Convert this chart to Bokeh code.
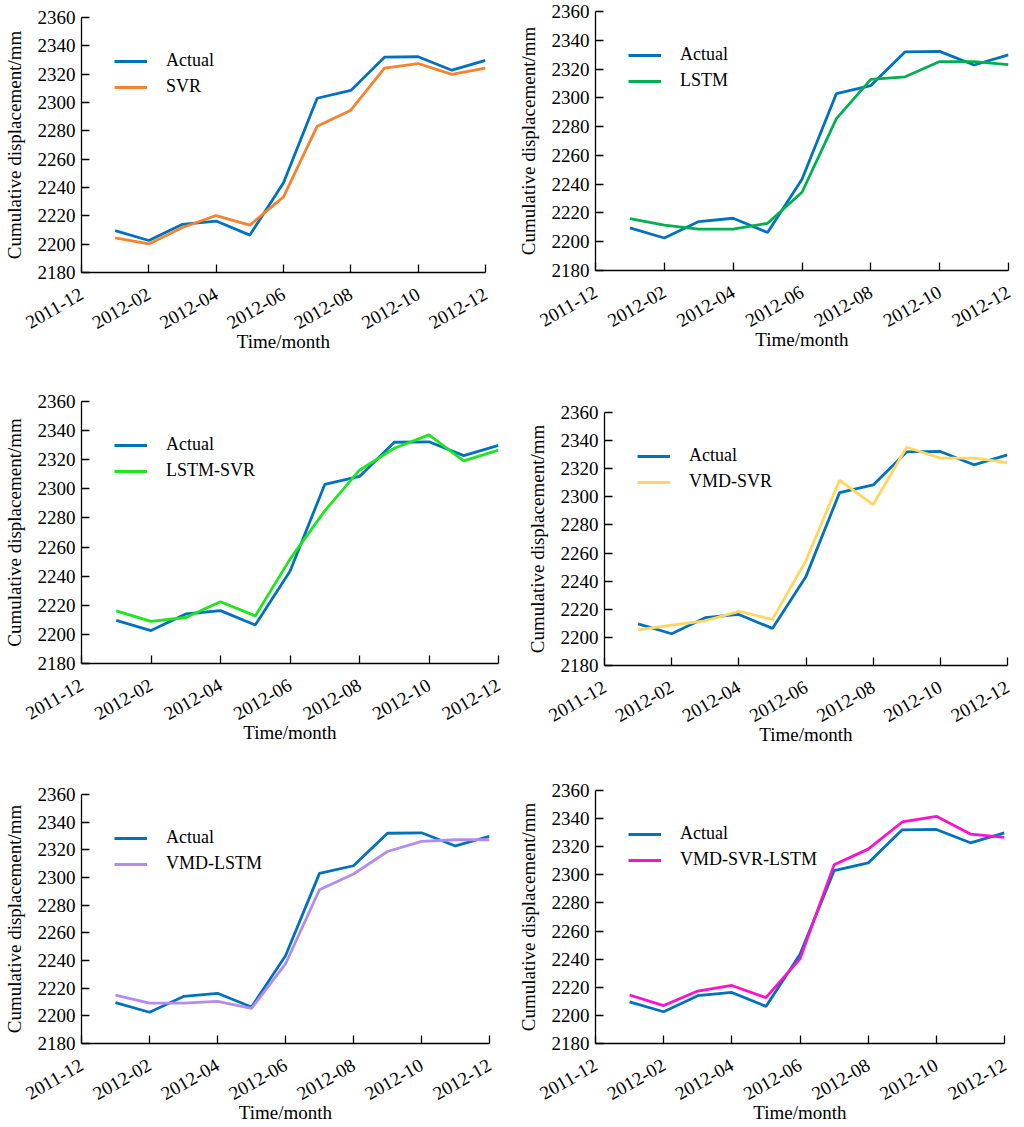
from bokeh.plotting import figure
from bokeh.layouts import column, row
from bokeh.models import FixedTicker, Range1d, Spacer
from bokeh.embed import file_html
from bokeh.resources import INLINE

# ---- data ----
tick_labels = ["2011-12", "2012-02", "2012-04", "2012-06", "2012-08", "2012-10", "2012-12"]
months = ["2012-01", "2012-02", "2012-03", "2012-04", "2012-05", "2012-06",
          "2012-07", "2012-08", "2012-09", "2012-10", "2012-11", "2012-12"]
actual = [2209.6, 2202.6, 2214.0, 2216.3, 2206.4, 2243.4, 2303.0, 2308.5, 2332.0, 2332.3, 2322.8, 2329.8]
svr = [2204.5, 2200.2, 2211.8, 2220.2, 2213.4, 2233.4, 2283.3, 2294.6, 2324.2, 2327.5, 2319.8, 2324.2]
lstm = [2216.0, 2211.6, 2208.7, 2208.7, 2212.8, 2234.4, 2285.5, 2312.8, 2314.6, 2325.2, 2325.2, 2323.1]
lstm_svr = [2216.2, 2208.9, 2211.6, 2222.4, 2212.7, 2251.7, 2284.9, 2312.8, 2327.9, 2337.1, 2319.2, 2326.6]
vmd_svr = [2205.4, 2208.8, 2211.8, 2218.5, 2212.8, 2254.6, 2311.8, 2294.5, 2335.3, 2327.5, 2327.5, 2324.4]
vmd_lstm = [2214.9, 2209.2, 2209.2, 2210.4, 2205.4, 2237.5, 2291.2, 2302.5, 2318.8, 2326.1, 2327.3, 2327.3]
vmd_svr_lstm = [2214.5, 2207.0, 2217.3, 2221.3, 2212.6, 2240.2, 2307.1, 2318.3, 2337.6, 2341.6, 2329.0, 2326.7]

FONT = "Liberation Serif"
ACTUAL_COLOR = "#0072BD"

# month index: 0 = 2011-12, 1 = 2012-01, ...
x_idx = list(range(1, len(months) + 1))
tick_pos = [2 * i for i in range(len(tick_labels))]

specs = [
    # name, values, color, spacer_above, width, height, left, right, top, bottom
    ("SVR", svr, "#F8812B", 6, 508, 364, 79, 23, 11, 98),
    ("LSTM", lstm, "#00B050", 0, 508, 370, 87, 8, 11, 100),
    ("LSTM-SVR", lstm_svr, "#1EE61E", 0, 508, 390, 81, 10, 31, 97),
    ("VMD-SVR", vmd_svr, "#FFD760", 11, 508, 379, 96, 9, 31, 95),
    ("VMD-LSTM", vmd_lstm, "#B48CF0", 4, 508, 362, 81, 19, 30, 81),
    ("VMD-SVR-LSTM", vmd_svr_lstm, "#FF10CC", 0, 508, 366, 87, 12, 30, 82),
]


def make_panel(name, values, color, sp, w, h, bl, br, bt, bb):
    p = figure(width=w, height=h, output_backend="svg", toolbar_location=None,
               x_range=Range1d(0, 12), y_range=Range1d(2180, 2360),
               min_border_left=bl, min_border_right=br,
               min_border_top=bt, min_border_bottom=bb)
    p.outline_line_color = None
    p.xgrid.visible = False
    p.ygrid.visible = False
    p.background_fill_color = "white"
    p.border_fill_color = "white"

    p.line(x_idx, actual, line_color=ACTUAL_COLOR, line_width=2.8, legend_label="Actual")
    p.line(x_idx, values, line_color=color, line_width=2.8, legend_label=name)

    for ax in (p.xaxis[0], p.yaxis[0]):
        ax.axis_line_color = "black"
        ax.axis_line_width = 1.3
        ax.major_tick_line_color = "black"
        ax.major_tick_line_width = 1.3
        ax.major_tick_in = 8
        ax.major_tick_out = 0
        ax.minor_tick_line_color = None
        ax.major_label_text_font = FONT
        ax.major_label_text_font_size = "19px"
        ax.major_label_text_color = "black"
        ax.axis_label_text_font = FONT
        ax.axis_label_text_font_size = "19px"
        ax.axis_label_text_font_style = "normal"
        ax.axis_label_text_color = "black"

    p.xaxis.ticker = FixedTicker(ticks=tick_pos)
    p.xaxis.major_label_overrides = {t: lab for t, lab in zip(tick_pos, tick_labels)}
    p.xaxis.major_label_orientation = 0.52
    p.xaxis.major_label_standoff = 20
    p.xaxis.axis_label = "Time/month"
    p.xaxis.axis_label_standoff = -7

    p.yaxis.ticker = FixedTicker(ticks=list(range(2180, 2361, 20)))
    p.yaxis.major_label_standoff = 6
    p.yaxis.axis_label = "Cumulative displacement/mm"
    p.yaxis.axis_label_standoff = 10

    lg = p.legend[0]
    lg.location = "top_left"
    lg.margin = 33
    lg.padding = 0
    lg.spacing = 5
    lg.border_line_color = None
    lg.background_fill_alpha = 0
    lg.glyph_width = 33
    lg.glyph_height = 20
    lg.label_height = 20
    lg.label_standoff = 19
    lg.label_text_font = FONT
    lg.label_text_font_size = "18px"
    lg.label_text_color = "black"

    if sp > 0:
        return column(Spacer(width=w, height=sp), p, spacing=0)
    return column(p, spacing=0)


cells = [make_panel(*s) for s in specs]
layout = column(row(cells[0], cells[1], spacing=0),
                row(cells[2], cells[3], spacing=0),
                row(cells[4], cells[5], spacing=0), spacing=0)

open("out.html", "w").write(file_html(layout, INLINE))
